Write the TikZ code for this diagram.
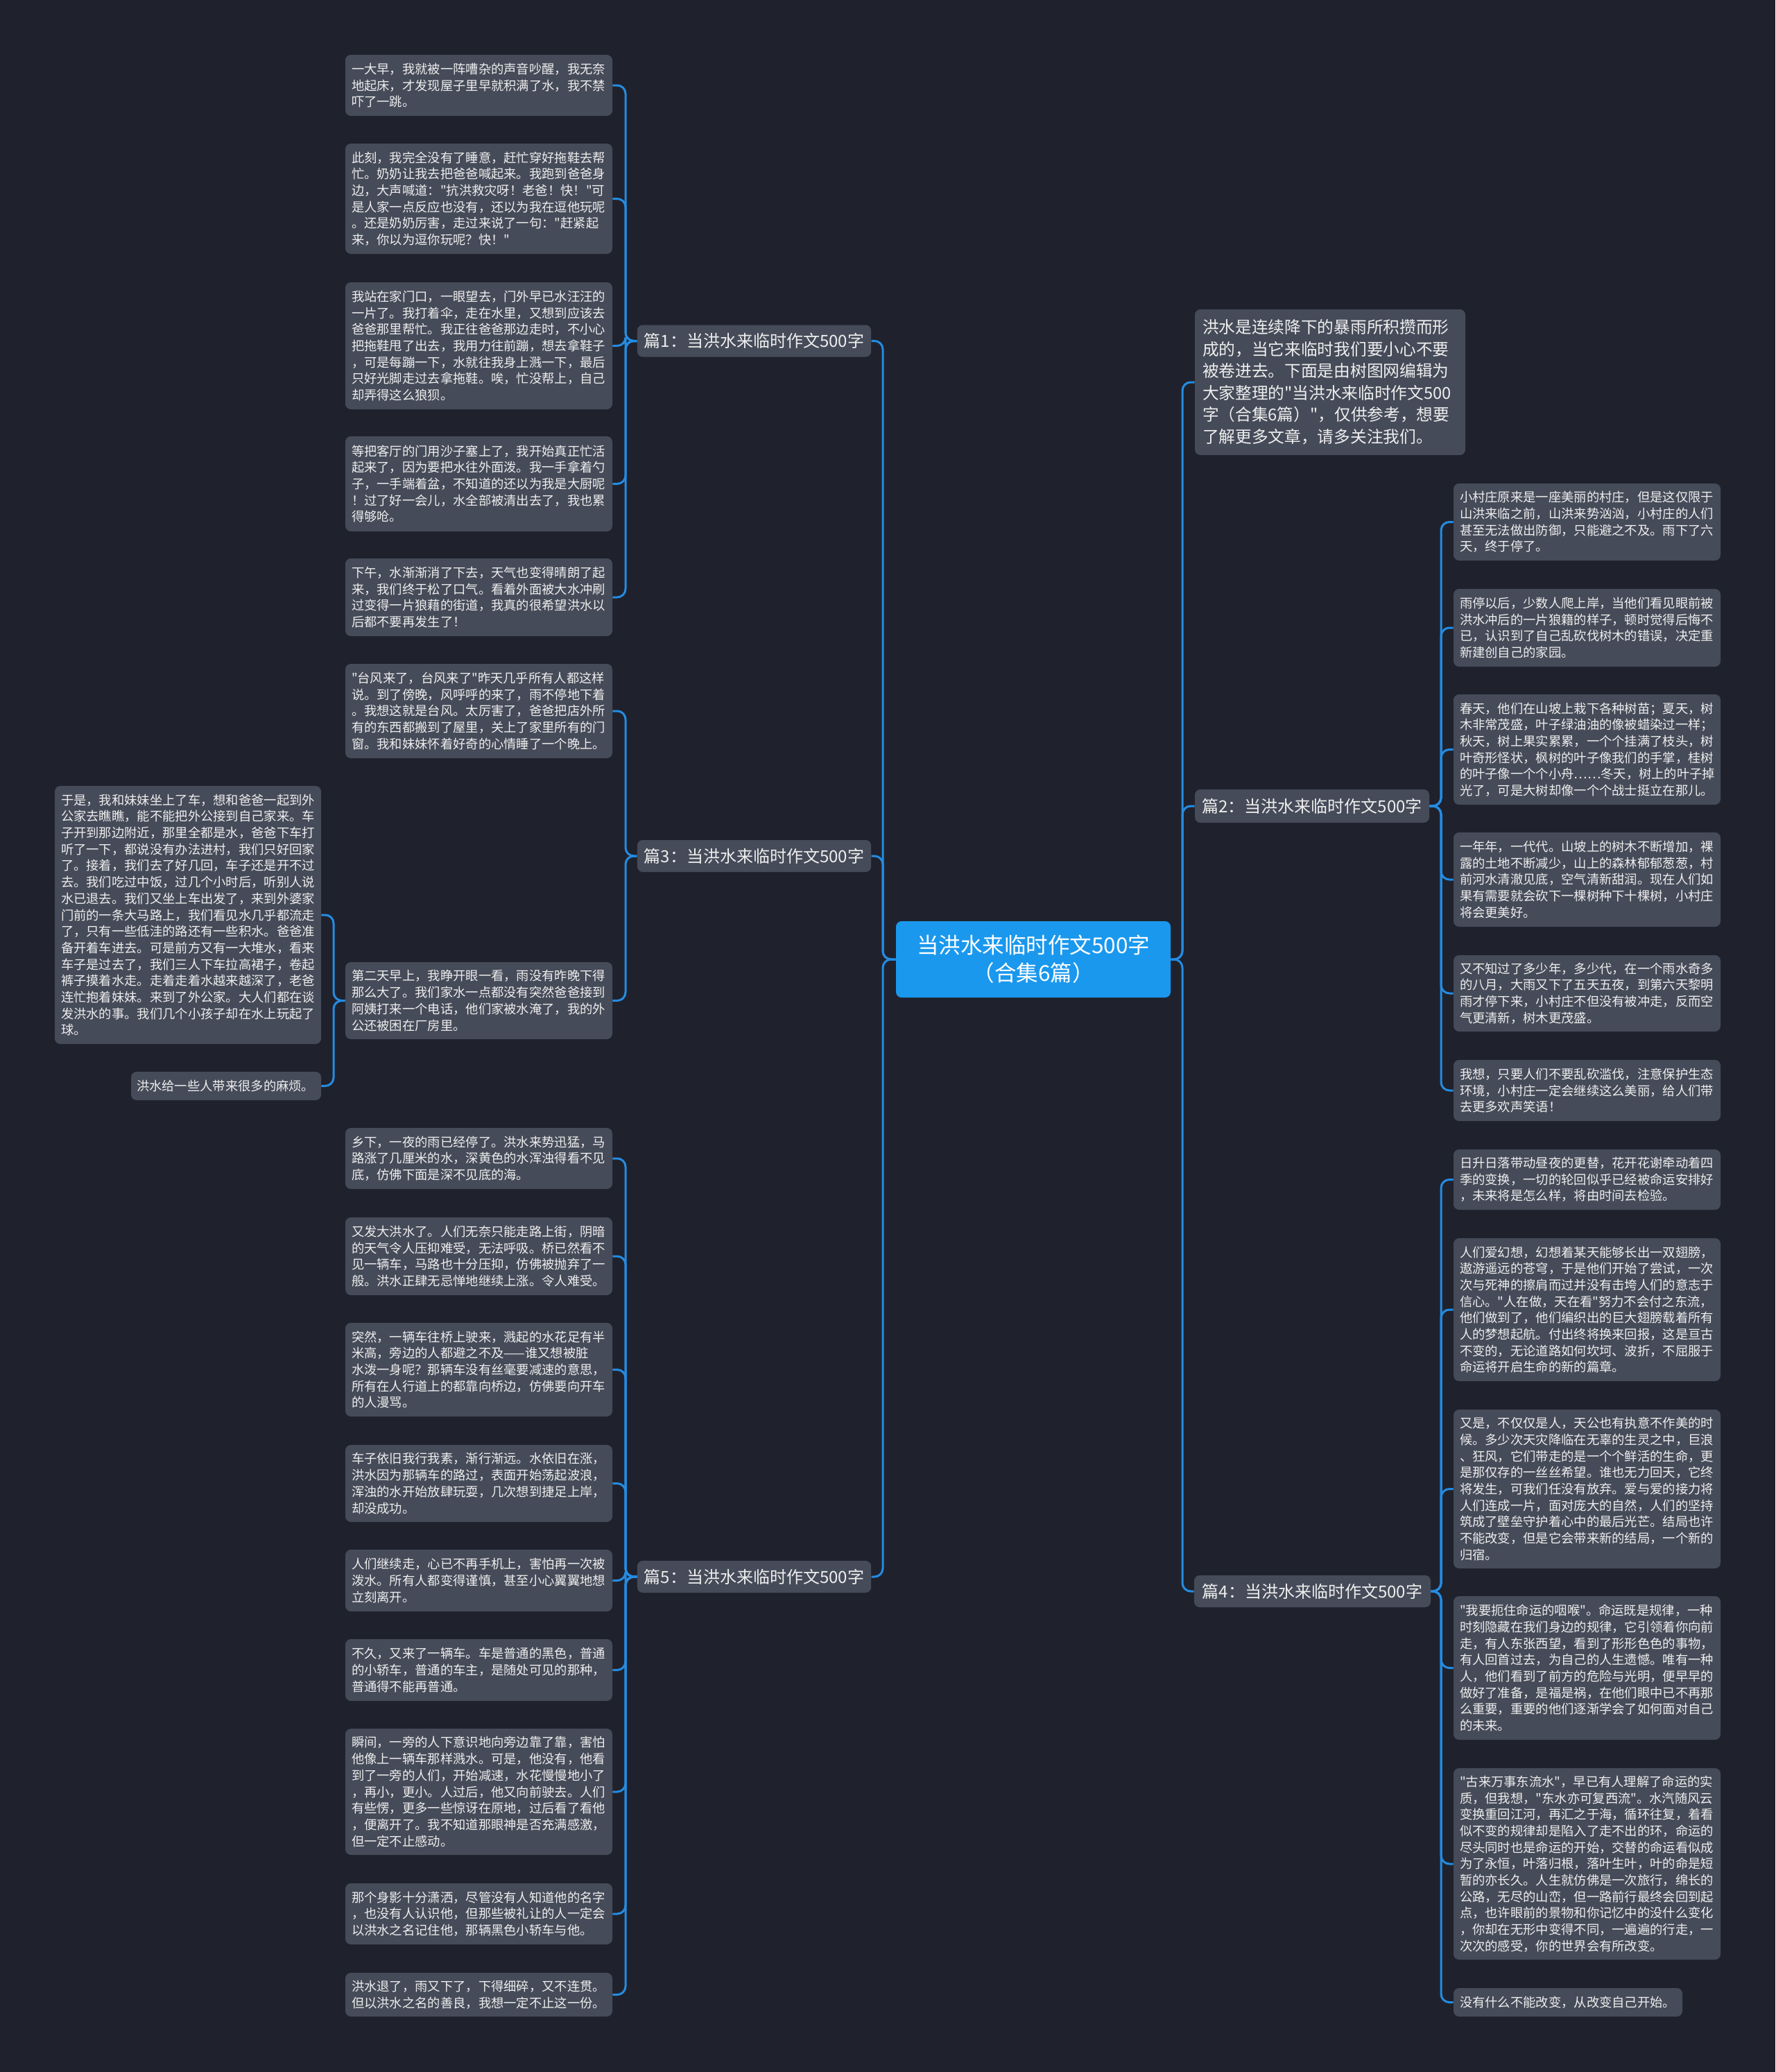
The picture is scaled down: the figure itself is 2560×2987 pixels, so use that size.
\documentclass[tikz,border=0pt]{standalone}
\usepackage{fontspec}
\setmainfont{Noto Sans CJK SC}[Ligatures=TeXOff]
\definecolor{bgc}{RGB}{31,34,45}
\definecolor{boxc}{RGB}{70,75,89}
\definecolor{txtc}{RGB}{238,238,238}
\definecolor{linec}{RGB}{36,140,226}
\definecolor{centerc}{RGB}{26,152,238}
\newcommand{\leaffont}{\fontsize{9.15pt}{11.85pt}\selectfont}
\newcommand{\introfont}{\fontsize{11.85pt}{15.75pt}\selectfont}
\newcommand{\branchfont}{\fontsize{12pt}{14pt}\selectfont}
\newcommand{\centerfont}{\fontsize{15.75pt}{20pt}\selectfont}
\tikzset{
  leaf/.style={fill=boxc, rounded corners=4pt, text=txtc, align=left, inner xsep=4.5pt, inner ysep=2pt, font=\leaffont},
  lw/.style={text width=183.5pt},
  branchbox/.style={fill=boxc, rounded corners=4pt, text=txtc, inner xsep=5pt, inner ysep=2pt, font=\branchfont, minimum width=167.5pt, minimum height=23pt},
  introbox/.style={fill=boxc, rounded corners=4pt, text=txtc, align=left, inner xsep=5.5pt, inner ysep=2pt, font=\introfont, text width=184pt, minimum height=105pt},
  centerbox/.style={fill=centerc, rounded corners=4pt, text=white, align=center, font=\centerfont, minimum width=198pt, minimum height=55pt},
  conn/.style={draw=linec, line width=1.5pt, rounded corners=6pt}
}
\begin{document}
\begin{tikzpicture}[x=0.5pt,y=-0.5pt]
\fill[bgc] (0,0) rectangle (2560,2987);
\useasboundingbox (0,0) rectangle (2560,2987);

\coordinate (tL) at (1273,0);
\coordinate (tR) at (1705,0);
\coordinate (tl1) at (902,0);
\coordinate (tfl) at (481,0);
\coordinate (tr1) at (2078,0);

% center
\node[centerbox] (C) at (1490,1383) {当洪水来临时作文500字\\（合集6篇）};

% branches
\node[branchbox] (B1) at (1087.5,491.5) {篇1：当洪水来临时作文500字};
\node[branchbox] (B3) at (1087.5,1234) {篇3：当洪水来临时作文500字};
\node[branchbox] (B5) at (1087.5,2273) {篇5：当洪水来临时作文500字};
\node[branchbox, minimum width=169pt, minimum height=24pt] (B2) at (1892,1162) {篇2：当洪水来临时作文500字};
\node[branchbox, minimum width=170.5pt] (B4) at (1892.5,2294) {篇4：当洪水来临时作文500字};
\node[introbox] (I) at (1918,551) {洪水是连续降下的暴雨所积攒而形\\成的，当它来临时我们要小心不要\\被卷进去。下面是由树图网编辑为\\大家整理的"当洪水来临时作文500\\字（合集6篇）"，仅供参考，想要\\了解更多文章，请多关注我们。};

% branch 1 leaves
\node[leaf,lw,minimum height=44pt] (L1a) at (690.5,123) {一大早，我就被一阵嘈杂的声音吵醒，我无奈\\地起床，才发现屋子里早就积满了水，我不禁\\吓了一跳。};
\node[leaf,lw,minimum height=79.5pt] (L1b) at (690.5,286.5) {此刻，我完全没有了睡意，赶忙穿好拖鞋去帮\\忙。奶奶让我去把爸爸喊起来。我跑到爸爸身\\边，大声喊道："抗洪救灾呀！老爸！快！"可\\是人家一点反应也没有，还以为我在逗他玩呢\\。还是奶奶厉害，走过来说了一句："赶紧起\\来，你以为逗你玩呢？快！"};
\node[leaf,lw,minimum height=91.5pt] (L1c) at (690.5,498.5) {我站在家门口，一眼望去，门外早已水汪汪的\\一片了。我打着伞，走在水里，又想到应该去\\爸爸那里帮忙。我正往爸爸那边走时，不小心\\把拖鞋甩了出去，我用力往前蹦，想去拿鞋子\\，可是每蹦一下，水就往我身上溅一下，最后\\只好光脚走过去拿拖鞋。唉，忙没帮上，自己\\却弄得这么狼狈。};
\node[leaf,lw,minimum height=68.5pt] (L1d) at (690.5,697.5) {等把客厅的门用沙子塞上了，我开始真正忙活\\起来了，因为要把水往外面泼。我一手拿着勺\\子，一手端着盆，不知道的还以为我是大厨呢\\！过了好一会儿，水全部被清出去了，我也累\\得够呛。};
\node[leaf,lw,minimum height=56pt] (L1e) at (690.5,861) {下午，水渐渐消了下去，天气也变得晴朗了起\\来，我们终于松了口气。看着外面被大水冲刷\\过变得一片狼藉的街道，我真的很希望洪水以\\后都不要再发生了！};

% branch 3 leaves
\node[leaf,lw,minimum height=68pt] (L3a) at (690.5,1025) {"台风来了，台风来了"昨天几乎所有人都这样\\说。到了傍晚，风呼呼的来了，雨不停地下着\\。我想这就是台风。太厉害了，爸爸把店外所\\有的东西都搬到了屋里，关上了家里所有的门\\窗。我和妹妹怀着好奇的心情睡了一个晚上。};
\node[leaf,lw,minimum height=55.5pt] (L3b) at (690.5,1442.5) {第二天早上，我睁开眼一看，雨没有昨晚下得\\那么大了。我们家水一点都没有突然爸爸接到\\阿姨打来一个电话，他们家被水淹了，我的外\\公还被困在厂房里。};
\node[leaf,text width=183pt,minimum height=186pt] (FL1) at (271,1319) {于是，我和妹妹坐上了车，想和爸爸一起到外\\公家去瞧瞧，能不能把外公接到自己家来。车\\子开到那边附近，那里全都是水，爸爸下车打\\听了一下，都说没有办法进村，我们只好回家\\了。接着，我们去了好几回，车子还是开不过\\去。我们吃过中饭，过几个小时后，听别人说\\水已退去。我们又坐上车出发了，来到外婆家\\门前的一条大马路上，我们看见水几乎都流走\\了，只有一些低洼的路还有一些积水。爸爸准\\备开着车进去。可是前方又有一大堆水，看来\\车子是过去了，我们三人下车拉高裙子，卷起\\裤子摸着水走。走着走着水越来越深了，老爸\\连忙抱着妹妹。来到了外公家。大人们都在谈\\发洪水的事。我们几个小孩子却在水上玩起了\\球。};
\node[leaf,text width=129pt,inner xsep=4pt,minimum height=20.5pt] (FL2) at (326,1565.5) {洪水给一些人带来很多的麻烦。};

% branch 5 leaves
\node[leaf,lw,minimum height=44pt] (L5a) at (690.5,1670) {乡下，一夜的雨已经停了。洪水来势迅猛，马\\路涨了几厘米的水，深黄色的水浑浊得看不见\\底，仿佛下面是深不见底的海。};
\node[leaf,lw,minimum height=56pt] (L5b) at (690.5,1811) {又发大洪水了。人们无奈只能走路上街，阴暗\\的天气令人压抑难受，无法呼吸。桥已然看不\\见一辆车，马路也十分压抑，仿佛被抛弃了一\\般。洪水正肆无忌惮地继续上涨。令人难受。};
\node[leaf,lw,minimum height=67.5pt] (L5c) at (690.5,1974.5) {突然，一辆车往桥上驶来，溅起的水花足有半\\米高，旁边的人都避之不及——谁又想被脏\\水泼一身呢？那辆车没有丝毫要减速的意思，\\所有在人行道上的都靠向桥边，仿佛要向开车\\的人漫骂。};
\node[leaf,lw,minimum height=55.5pt] (L5d) at (690.5,2138.5) {车子依旧我行我素，渐行渐远。水依旧在涨，\\洪水因为那辆车的路过，表面开始荡起波浪，\\浑浊的水开始放肆玩耍，几次想到捷足上岸，\\却没成功。};
\node[leaf,lw,minimum height=44.5pt] (L5e) at (690.5,2278.5) {人们继续走，心已不再手机上，害怕再一次被\\泼水。所有人都变得谨慎，甚至小心翼翼地想\\立刻离开。};
\node[leaf,lw,minimum height=44.5pt] (L5f) at (690.5,2407.5) {不久，又来了一辆车。车是普通的黑色，普通\\的小轿车，普通的车主，是随处可见的那种，\\普通得不能再普通。};
\node[leaf,lw,minimum height=91pt] (L5g) at (690.5,2583) {瞬间，一旁的人下意识地向旁边靠了靠，害怕\\他像上一辆车那样溅水。可是，他没有，他看\\到了一旁的人们，开始减速，水花慢慢地小了\\，再小，更小。人过后，他又向前驶去。人们\\有些愣，更多一些惊讶在原地，过后看了看他\\，便离开了。我不知道那眼神是否充满感激，\\但一定不止感动。};
\node[leaf,lw,minimum height=44pt] (L5h) at (690.5,2759) {那个身影十分潇洒，尽管没有人知道他的名字\\，也没有人认识他，但那些被礼让的人一定会\\以洪水之名记住他，那辆黑色小轿车与他。};
\node[leaf,lw,minimum height=31.5pt] (L5i) at (690.5,2875.5) {洪水退了，雨又下了，下得细碎，又不连贯。\\但以洪水之名的善良，我想一定不止这一份。};

% branch 2 leaves
\node[leaf,lw,minimum height=55.5pt] (R2a) at (2288.5,752.5) {小村庄原来是一座美丽的村庄，但是这仅限于\\山洪来临之前，山洪来势汹汹，小村庄的人们\\甚至无法做出防御，只能避之不及。雨下了六\\天，终于停了。};
\node[leaf,lw,minimum height=56pt] (R2b) at (2288.5,905) {雨停以后，少数人爬上岸，当他们看见眼前被\\洪水冲后的一片狼籍的样子，顿时觉得后悔不\\已，认识到了自己乱砍伐树木的错误，决定重\\新建创自己的家园。};
\node[leaf,lw,minimum height=79.5pt] (R2c) at (2288.5,1080.5) {春天，他们在山坡上栽下各种树苗；夏天，树\\木非常茂盛，叶子绿油油的像被蜡染过一样；\\秋天，树上果实累累，一个个挂满了枝头，树\\叶奇形怪状，枫树的叶子像我们的手掌，桂树\\的叶子像一个个小舟……冬天，树上的叶子掉\\光了，可是大树却像一个个战士挺立在那儿。};
\node[leaf,lw,minimum height=68pt] (R2d) at (2288.5,1268) {一年年，一代代。山坡上的树木不断增加，裸\\露的土地不断减少，山上的森林郁郁葱葱，村\\前河水清澈见底，空气清新甜润。现在人们如\\果有需要就会砍下一棵树种下十棵树，小村庄\\将会更美好。};
\node[leaf,lw,minimum height=55pt] (R2e) at (2288.5,1432) {又不知过了多少年，多少代，在一个雨水奇多\\的八月，大雨又下了五天五夜，到第六天黎明\\雨才停下来，小村庄不但没有被冲走，反而空\\气更清新，树木更茂盛。};
\node[leaf,lw,minimum height=44pt] (R2f) at (2288.5,1572) {我想，只要人们不要乱砍滥伐，注意保护生态\\环境，小村庄一定会继续这么美丽，给人们带\\去更多欢声笑语！};

% branch 4 leaves
\node[leaf,lw,minimum height=43.5pt] (R4a) at (2288.5,1700.5) {日升日落带动昼夜的更替，花开花谢牵动着四\\季的变换，一切的轮回似乎已经被命运安排好\\，未来将是怎么样，将由时间去检验。};
\node[leaf,lw,minimum height=103pt] (R4b) at (2288.5,1888) {人们爱幻想，幻想着某天能够长出一双翅膀，\\遨游遥远的苍穹，于是他们开始了尝试，一次\\次与死神的擦肩而过并没有击垮人们的意志于\\信心。"人在做，天在看"努力不会付之东流，\\他们做到了，他们编织出的巨大翅膀载着所有\\人的梦想起航。付出终将换来回报，这是亘古\\不变的，无论道路如何坎坷、波折，不屈服于\\命运将开启生命的新的篇章。};
\node[leaf,lw,minimum height=114.5pt] (R4c) at (2288.5,2146.5) {又是，不仅仅是人，天公也有执意不作美的时\\候。多少次天灾降临在无辜的生灵之中，巨浪\\、狂风，它们带走的是一个个鲜活的生命，更\\是那仅存的一丝丝希望。谁也无力回天，它终\\将发生，可我们任没有放弃。爱与爱的接力将\\人们连成一片，面对庞大的自然，人们的坚持\\筑成了壁垒守护着心中的最后光芒。结局也许\\不能改变，但是它会带来新的结局，一个新的\\归宿。};
\node[leaf,lw,minimum height=103.5pt] (R4d) at (2288.5,2404.5) {"我要扼住命运的咽喉"。命运既是规律，一种\\时刻隐藏在我们身边的规律，它引领着你向前\\走，有人东张西望，看到了形形色色的事物，\\有人回首过去，为自己的人生遗憾。唯有一种\\人，他们看到了前方的危险与光明，便早早的\\做好了准备，是福是祸，在他们眼中已不再那\\么重要，重要的他们逐渐学会了如何面对自己\\的未来。};
\node[leaf,lw,minimum height=138pt] (R4e) at (2288.5,2687) {"古来万事东流水"，早已有人理解了命运的实\\质，但我想，"东水亦可复西流"。水汽随风云\\变换重回江河，再汇之于海，循环往复，着看\\似不变的规律却是陷入了走不出的环，命运的\\尽头同时也是命运的开始，交替的命运看似成\\为了永恒，叶落归根，落叶生叶，叶的命是短\\暂的亦长久。人生就仿佛是一次旅行，绵长的\\公路，无尽的山峦，但一路前行最终会回到起\\点，也许眼前的景物和你记忆中的没什么变化\\，你却在无形中变得不同，一遍遍的行走，一\\次次的感受，你的世界会有所改变。};
\node[leaf,text width=156pt,minimum height=20.5pt] (R4f) at (2261,2886.5) {没有什么不能改变，从改变自己开始。};

% connectors
\foreach \b in {B1,B3,B5} \draw[conn] (C.west) -- (C.west -| tL) |- (\b.east);
\foreach \b in {I,B2,B4} \draw[conn] (C.east) -- (C.east -| tR) |- (\b.west);
\foreach \c in {L1a,L1b,L1c,L1d,L1e} \draw[conn] (B1.west) -- (B1.west -| tl1) |- (\c.east);
\foreach \c in {L3a,L3b} \draw[conn] (B3.west) -- (B3.west -| tl1) |- (\c.east);
\foreach \c in {FL1,FL2} \draw[conn] (L3b.west) -- (L3b.west -| tfl) |- (\c.east);
\foreach \c in {L5a,L5b,L5c,L5d,L5e,L5f,L5g,L5h,L5i} \draw[conn] (B5.west) -- (B5.west -| tl1) |- (\c.east);
\foreach \c in {R2a,R2b,R2c,R2d,R2e,R2f} \draw[conn] (B2.east) -- (B2.east -| tr1) |- (\c.west);
\foreach \c in {R4a,R4b,R4c,R4d,R4e,R4f} \draw[conn] (B4.east) -- (B4.east -| tr1) |- (\c.west);
\end{tikzpicture}
\end{document}
